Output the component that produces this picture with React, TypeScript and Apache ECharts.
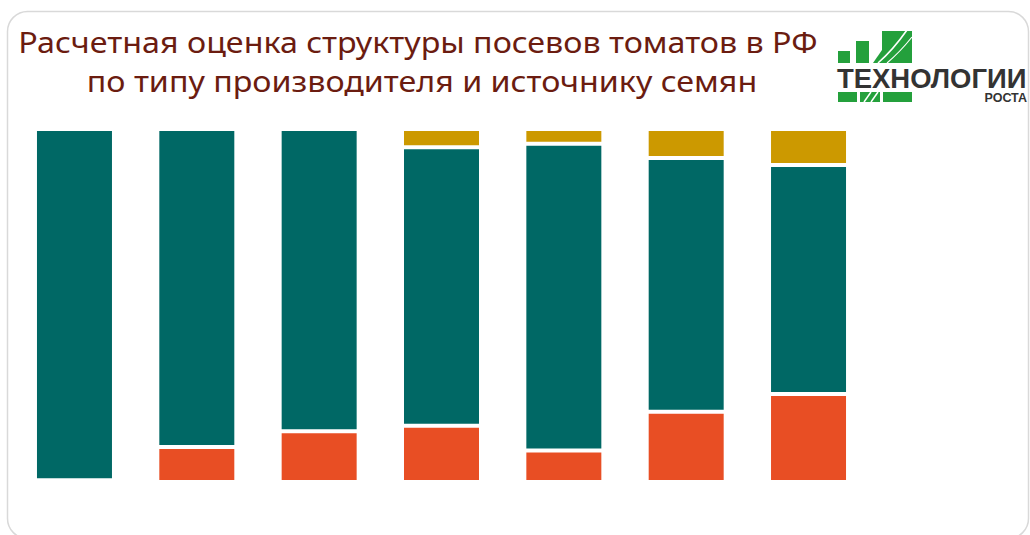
import React, { useEffect, useRef } from "react";
import * as echarts from "echarts";

const categories = ["1", "2", "3", "4", "5", "6", "7"];
const orangeValues = [0.5, 9.9, 14.4, 15.9, 8.9, 19.9, 24.9];
const goldValues = [0, 0, 0, 5.2, 4.2, 8.2, 10.2];
const tealValues = orangeValues.map((o, i) => +(100 - o - goldValues[i]).toFixed(1));

const titleLines = [
  "Расчетная оценка структуры посевов томатов в РФ",
  "по типу производителя и источнику семян",
];

const TEAL = "#006865";
const ORANGE = "#E84E24";
const GOLD = "#CC9900";
const GREEN = "#24A03C";
const TITLE_COLOR = "#6B1C10";

export default function App() {
  const ref = useRef<HTMLDivElement>(null);
  useEffect(() => {
    if (!ref.current) return;
    const chart = echarts.init(ref.current, undefined, { renderer: "svg" });
    const barCommon = {
      type: "bar",
      stack: "total",
      barWidth: 79,
      itemStyle: { borderColor: "#ffffff", borderWidth: 2 },
      emphasis: { disabled: true },
    };
    chart.setOption({
      animation: false,
      backgroundColor: "#ffffff",
      grid: { left: 13.3, right: 160.3, top: 129, bottom: 53, containLabel: false },
      xAxis: { type: "category", data: categories, show: false },
      yAxis: { type: "value", min: 0, max: 100, show: false },
      series: [
        { ...barCommon, name: "orange", data: orangeValues, itemStyle: { ...barCommon.itemStyle, color: ORANGE } },
        { ...barCommon, name: "teal", data: tealValues, itemStyle: { ...barCommon.itemStyle, color: TEAL } },
        { ...barCommon, name: "gold", data: goldValues, itemStyle: { ...barCommon.itemStyle, color: GOLD } },
      ],
      graphic: [
        {
          type: "rect",
          shape: { x: 7.5, y: 11.5, width: 1021, height: 527, r: 20 },
          style: { fill: "none", stroke: "#d9d9d9", lineWidth: 1.5 },
          z: -1,
        },
        {
          type: "text",
          x: 418,
          y: 42,
          scaleX: 1.112,
          style: {
            text: titleLines[0],
            fill: TITLE_COLOR,
            font: "29px 'Noto Sans'",
            align: "center",
            verticalAlign: "middle",
          },
        },
        {
          type: "text",
          x: 422,
          y: 81,
          scaleX: 1.112,
          style: {
            text: titleLines[1],
            fill: TITLE_COLOR,
            font: "29px 'Noto Sans'",
            align: "center",
            verticalAlign: "middle",
          },
        },
        // logo
        { type: "rect", shape: { x: 838, y: 51, width: 12, height: 12 }, style: { fill: GREEN } },
        { type: "rect", shape: { x: 856, y: 41, width: 13, height: 22 }, style: { fill: GREEN } },
        { type: "rect", shape: { x: 882, y: 31, width: 30, height: 32 }, style: { fill: GREEN } },
        { type: "polygon", shape: { points: [[873, 63], [882, 50], [882, 63]] }, style: { fill: GREEN } },
        { type: "bezierCurve", shape: { x1: 878, y1: 63, x2: 907, y2: 30, cpx1: 893, cpy1: 50 }, style: { stroke: "#fff", lineWidth: 1.6, fill: "none" } },
        { type: "bezierCurve", shape: { x1: 887, y1: 63, x2: 912, y2: 37, cpx1: 900, cpy1: 52 }, style: { stroke: "#fff", lineWidth: 1.2, fill: "none" } },
        { type: "rect", shape: { x: 838, y: 92, width: 19, height: 10 }, style: { fill: GREEN } },
        { type: "rect", shape: { x: 860, y: 92, width: 20, height: 10 }, style: { fill: GREEN } },
        { type: "line", shape: { x1: 864, y1: 102, x2: 871, y2: 92 }, style: { stroke: "#fff", lineWidth: 1.5 } },
        { type: "line", shape: { x1: 871, y1: 102, x2: 878, y2: 92 }, style: { stroke: "#fff", lineWidth: 1.5 } },
        { type: "rect", shape: { x: 883, y: 92, width: 29, height: 10 }, style: { fill: GREEN } },
        {
          type: "text",
          x: 837,
          y: 78.5,
          scaleX: 0.98,
          style: {
            text: "ТЕХНОЛОГИИ",
            fill: "#333333",
            font: "bold 28px 'Liberation Sans'",
            align: "left",
            verticalAlign: "middle",
          },
        },
        {
          type: "text",
          x: 1027,
          y: 97.5,
          style: {
            text: "РОСТА",
            fill: "#333333",
            font: "bold 12.5px 'Liberation Sans'",
            align: "right",
            verticalAlign: "middle",
          },
        },
      ],
    });
    return () => chart.dispose();
  }, []);
  return (
    <div
      ref={ref}
      style={{ position: "fixed", left: 0, top: 0, width: 1030, height: 535 }}
    />
  );
}
